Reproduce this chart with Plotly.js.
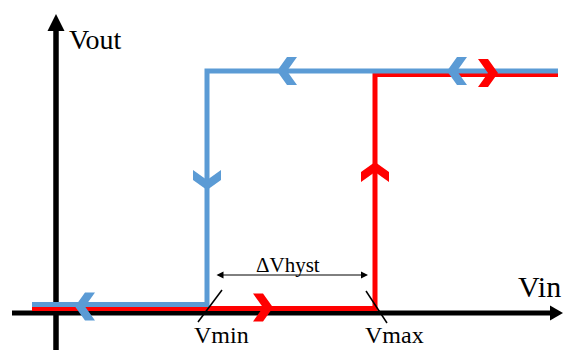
<!DOCTYPE html>
<html>
<head>
<meta charset="utf-8">
<script src="https://cdn.plot.ly/plotly-3.0.1.min.js"></script>
<style>
  html, body { margin: 0; padding: 0; background: #fff; }
  #grafico { width: 565px; height: 350px; }
</style>
</head>
<body>
<div id="grafico"></div>
<script>
// Hysteresis loop of a comparator (Schmitt trigger)
// units are arbitrary, origin is where the two axes cross

const vMin = 151;
const vMax = 319;

// falling branch (blue): high output until Vin drops below Vmin
const blueX = [-24, vMin, vMin, 502];
const blueY = [8.5, 8.5, 242, 242];

// rising branch (red): low output until Vin goes above Vmax
const redX = [-24, vMax, vMax, 502];
const redY = [4.5, 4.5, 238.5, 238.5];

// direction arrows along each branch (tip position + direction)
const blueArrowX = [221, 391, 19, vMin];
const blueArrowY = [242, 242, 6.5, 123];
const blueArrowDir = ['left', 'left', 'left', 'down'];
const redArrowX = [442, 217, vMax];
const redArrowY = [240, 5.5, 151];
const redArrowDir = ['right', 'right', 'up'];

const axisLabels = ['Vout', 'Vin'];
const thresholdLabels = ['Vmin', 'Vmax'];
const hystLabel = 'ΔVhyst';

const BLUE = '#5B9BD5';
const RED = '#FF0000';
const serif = '"Liberation Serif", "Times New Roman", "DejaVu Serif", serif';

function poly(xs, ys, color) {
    return {
        x: xs, y: ys, type: 'scatter', mode: 'lines',
        fill: 'toself', fillcolor: color,
        line: { width: 0, color: color },
        hoverinfo: 'skip'
    };
}

// chevron "arrow" drawn on the curves
function chevron(x, y, dir, color) {
    const u = { left: [-1, 0], right: [1, 0], up: [0, 1], down: [0, -1] }[dir];
    const v = [-u[1], u[0]];
    const pts = [[0, 0], [-10, 14], [-20, 14], [-10, 0], [-20, -14], [-10, -14], [0, 0]];
    const xs = pts.map(p => x + p[0] * u[0] + p[1] * v[0]);
    const ys = pts.map(p => y + p[0] * u[1] + p[1] * v[1]);
    return poly(xs, ys, color);
}

function line(xs, ys, color, width) {
    return {
        x: xs, y: ys, type: 'scatter', mode: 'lines',
        line: { color: color, width: width },
        hoverinfo: 'skip'
    };
}

const traces = [];

// axes with arrow heads
traces.push(line([0, 0], [-37, 284], 'black', 5.5));
traces.push(poly([0, 8.5, -8.5, 0], [299, 282, 282, 299], 'black'));
traces.push(line([-44, 496], [0, 0], 'black', 5));
traces.push(poly([507, 494, 494, 507], [0, 7.5, -7.5, 0], 'black'));

// the two branches
traces.push(line(redX, redY, RED, 5));
traces.push(line(blueX, blueY, BLUE, 5));

blueArrowX.forEach((x, i) => traces.push(chevron(x, blueArrowY[i], blueArrowDir[i], BLUE)));
redArrowX.forEach((x, i) => traces.push(chevron(x, redArrowY[i], redArrowDir[i], RED)));

// threshold marks
traces.push(line([vMin + 15, vMin - 9], [23, -9], 'black', 1.5));
traces.push(line([vMax - 9, vMax + 12], [22, -10], 'black', 1.5));

const annotations = [
    { x: 11, y: 274, text: axisLabels[0], xanchor: 'left', font: { size: 28 } },
    { x: 483, y: 27, text: axisLabels[1], font: { size: 30 } },
    { x: vMin + 14, y: -37, yanchor: 'bottom', text: thresholdLabels[0], font: { size: 24 } },
    { x: vMax + 19, y: -37, yanchor: 'bottom', text: thresholdLabels[1], font: { size: 24 } },
    { x: (vMin + vMax) / 2 - 3, y: 48, text: hystLabel, font: { size: 21 } },
    {
        x: vMax - 7, y: 38, ax: vMin + 8, ay: 38, axref: 'x', ayref: 'y',
        text: '', showarrow: true, arrowside: 'end+start',
        arrowhead: 2, startarrowhead: 2, arrowsize: 1.4, startarrowsize: 1.4,
        arrowwidth: 1, arrowcolor: 'black'
    }
].map(a => Object.assign({
    xref: 'x', yref: 'y', showarrow: false
}, a, { font: Object.assign({ family: serif, color: 'black' }, a.font) }));

const layout = {
    width: 565,
    height: 350,
    margin: { l: 0, r: 0, t: 0, b: 0 },
    paper_bgcolor: 'white',
    plot_bgcolor: 'white',
    showlegend: false,
    xaxis: { range: [-56, 509], visible: false, fixedrange: true },
    yaxis: { range: [-37, 313], visible: false, fixedrange: true },
    annotations: annotations,
    hovermode: false
};

Plotly.newPlot('grafico', traces, layout, { displayModeBar: false, staticPlot: true });
</script>
</body>
</html>
